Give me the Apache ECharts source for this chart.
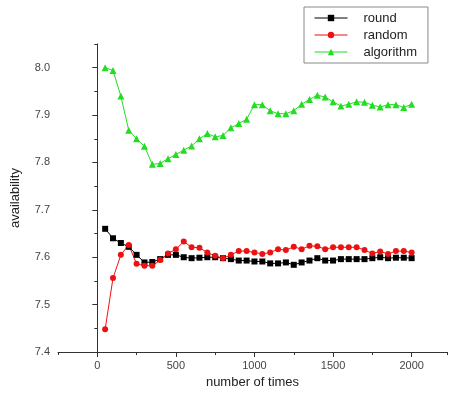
<!DOCTYPE html>
<html>
<head>
<meta charset="utf-8">
<script src="https://cdn.jsdelivr.net/npm/echarts@6/dist/echarts.min.js"></script>
<style>
  html, body { margin: 0; padding: 0; background: #fff; }
  #chart { width: 449px; height: 394px; }
</style>
</head>
<body>
<div id="chart"></div>
<script>
// x positions: every 50 from 50 to 2000
const times = [50, 100, 150, 200, 250, 300, 350, 400, 450, 500,
  550, 600, 650, 700, 750, 800, 850, 900, 950, 1000,
  1050, 1100, 1150, 1200, 1250, 1300, 1350, 1400, 1450, 1500,
  1550, 1600, 1650, 1700, 1750, 1800, 1850, 1900, 1950, 2000];

const roundVals = [7.66, 7.64, 7.63, 7.622, 7.605, 7.589, 7.59, 7.596, 7.605, 7.605,
  7.60, 7.598, 7.599, 7.60, 7.60, 7.598, 7.596, 7.593, 7.593, 7.591,
  7.591, 7.587, 7.587, 7.589, 7.584, 7.589, 7.593, 7.598, 7.593, 7.593,
  7.596, 7.596, 7.596, 7.596, 7.598, 7.60, 7.598, 7.599, 7.599, 7.598];

const randomVals = [7.448, 7.556, 7.605, 7.626, 7.586, 7.582, 7.582, 7.594, 7.608, 7.617,
  7.633, 7.621, 7.620, 7.610, 7.603, 7.598, 7.605, 7.613, 7.613, 7.610,
  7.607, 7.610, 7.617, 7.615, 7.622, 7.617, 7.624, 7.623, 7.617, 7.621,
  7.621, 7.621, 7.621, 7.615, 7.608, 7.612, 7.607, 7.613, 7.613, 7.610];

const algoVals = [8.0, 7.994, 7.94, 7.868, 7.85, 7.834, 7.796, 7.798, 7.808, 7.817,
  7.826, 7.835, 7.85, 7.861, 7.854, 7.857, 7.873, 7.882, 7.891, 7.922,
  7.922, 7.909, 7.903, 7.903, 7.909, 7.923, 7.933, 7.942, 7.938, 7.928,
  7.919, 7.923, 7.928, 7.927, 7.921, 7.917, 7.922, 7.922, 7.916, 7.923];

const xMajorTicks = [0, 500, 1000, 1500, 2000];
const yMajorTicks = [7.4, 7.5, 7.6, 7.7, 7.8, 7.9, 8.0];

const font = 'Liberation Sans, Arial, sans-serif';
const axisColor = '#333';

const pairs = (vals) => times.map((t, i) => [t, vals[i]]);

const myChart = echarts.init(document.getElementById('chart'), null, { renderer: 'canvas' });
myChart.setOption({
  animation: false,
  textStyle: { fontFamily: font },
  grid: { left: 58, right: 2, top: 44, bottom: 42, outerBoundsMode: 'none' },
  legend: {
    orient: 'vertical',
    left: 304,
    top: 7,
    padding: [3, 11, 3, 10],
    itemWidth: 33,
    itemHeight: 8,
    itemGap: 1,
    borderColor: '#888',
    borderWidth: 1,
    lineStyle: { width: 1 },
    textStyle: { fontSize: 13, lineHeight: 16, color: '#222', padding: [0, 0, 0, 11] },
    data: ['round', 'random', 'algorithm'],
  },
  xAxis: [
    {
      type: 'value',
      min: -250,
      max: 2225,
      interval: 250,
      name: 'number of times',
      nameLocation: 'middle',
      nameGap: 24,
      nameTextStyle: { fontSize: 13, color: '#222' },
      axisLine: { show: true, lineStyle: { color: axisColor } },
      axisTick: { show: true, length: 3, lineStyle: { color: axisColor } },
      axisLabel: {
        fontSize: 11, color: '#444', margin: 8,
        formatter: (v) => (v % 500 === 0 ? String(v) : ''),
      },
      splitLine: { show: false },
    },
    {
      type: 'value',
      position: 'bottom',
      min: -250,
      max: 2225,
      axisLine: { show: false },
      axisTick: { show: true, length: 5, customValues: xMajorTicks, lineStyle: { color: axisColor } },
      axisLabel: { show: false },
      splitLine: { show: false },
    },
  ],
  yAxis: [
    {
      type: 'value',
      min: 7.4,
      max: 8.05,
      interval: 0.05,
      name: 'availability',
      nameLocation: 'middle',
      nameGap: 36,
      nameTextStyle: { fontSize: 13, color: '#222' },
      axisLine: { show: true, lineStyle: { color: axisColor } },
      axisTick: { show: true, length: 3, lineStyle: { color: axisColor } },
      axisLabel: {
        fontSize: 11, color: '#444', margin: 8,
        formatter: (v) => (Math.round(v * 100) % 10 === 0 ? v.toFixed(1) : ''),
      },
      splitLine: { show: false },
    },
    {
      type: 'value',
      position: 'left',
      min: 7.4,
      max: 8.05,
      axisLine: { show: false },
      axisTick: { show: true, length: 5, customValues: yMajorTicks, lineStyle: { color: axisColor } },
      axisLabel: { show: false },
      splitLine: { show: false },
    },
  ],
  series: [
    {
      name: 'round',
      type: 'line',
      data: pairs(roundVals),
      symbol: 'rect',
      symbolSize: 6,
      color: '#000000',
      lineStyle: { width: 1 },
    },
    {
      name: 'random',
      type: 'line',
      data: pairs(randomVals),
      symbol: 'circle',
      symbolSize: 6,
      color: '#ee1111',
      lineStyle: { width: 1 },
    },
    {
      name: 'algorithm',
      type: 'line',
      data: pairs(algoVals),
      symbol: 'triangle',
      symbolSize: 7,
      color: '#22dd22',
      lineStyle: { width: 1 },
    },
  ],
});
window.addEventListener('resize', myChart.resize);
</script>
</body>
</html>
